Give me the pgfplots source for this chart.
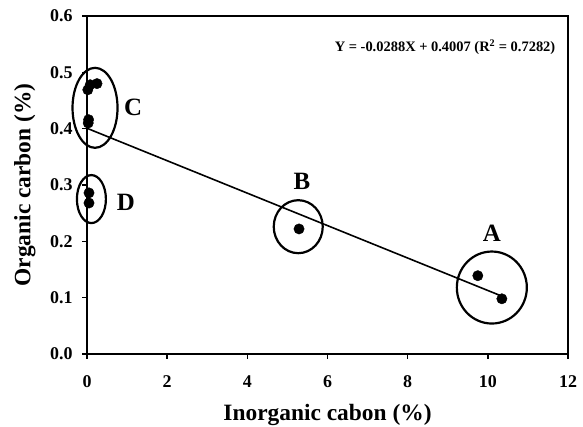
\documentclass[border=0pt]{standalone}
\usepackage{fontspec}
\setmainfont{Liberation Serif}
\usepackage{pgfplots}
\pgfplotsset{compat=1.18}

\begin{document}
\begin{tikzpicture}
\path[use as bounding box] (-87bp,-73bp) rectangle (496bp,354bp);
\begin{axis}[
  scale only axis, width=481bp, height=338bp,
  xmin=0, xmax=12, ymin=0, ymax=0.6,
  xtick={0,2,...,12}, ytick={0,0.1,...,0.6},
  tick align=outside, tick pos=left,
  major tick length=5pt,
  axis line style={line width=1.5pt},
  every tick/.style={black, line width=1.4pt},
  /pgf/number format/assume math mode=true,
  ticklabel style={font=\fontsize{18}{18}\selectfont\bfseries},
  xticklabel style={yshift=-13bp},
  yticklabel style={xshift=-6bp, /pgf/number format/fixed, /pgf/number format/fixed zerofill, /pgf/number format/precision=1},
  xlabel={Inorganic cabon (\%)}, ylabel={Organic carbon (\%)},
  label style={font=\fontsize{23.5}{24}\selectfont\bfseries},
  xlabel style={at={(axis description cs:0.5,0)}, anchor=base, yshift=-66bp},
  ylabel style={at={(axis description cs:-0.129,0.5)}, anchor=center},
  clip=false,
]
  \addplot[black, line width=1.6pt] coordinates {(0,0.4007) (10.3,0.1041)};
  \addplot[only marks, mark=*, mark size=5.2pt, black] coordinates {
    (0.08,0.478) (0.25,0.480) (0.02,0.469) (0.04,0.416) (0.03,0.410)
    (0.05,0.286) (0.05,0.268)
    (5.29,0.222)
    (9.75,0.139) (10.35,0.098)};
  \draw[line width=2.2pt] (axis cs:0.2,0.437) ellipse [x radius=22.5bp, y radius=40bp];
  \draw[line width=2.2pt] (axis cs:0.11,0.275) ellipse [x radius=14.5bp, y radius=24bp];
  \draw[line width=2.2pt] (axis cs:5.27,0.226) ellipse [x radius=24.5bp, y radius=26.5bp];
  \draw[line width=2.2pt] (axis cs:10.1,0.118) ellipse [x radius=35bp, y radius=36bp];
  \node[font=\fontsize{25}{25}\selectfont\bfseries] at (axis cs:1.15,0.437) {C};
  \node[font=\fontsize{25}{25}\selectfont\bfseries] at (axis cs:0.97,0.27) {D};
  \node[font=\fontsize{25}{25}\selectfont\bfseries] at (axis cs:5.36,0.306) {B};
  \node[font=\fontsize{25}{25}\selectfont\bfseries] at (axis cs:10.1,0.215) {A};
  \node[font=\fontsize{14.5}{15}\selectfont\bfseries, anchor=east] at (axis cs:11.77,0.545) {Y = -0.0288X + 0.4007 (R$^{\mathbf{2}}$ = 0.7282)};
\end{axis}
\end{tikzpicture}
\end{document}
